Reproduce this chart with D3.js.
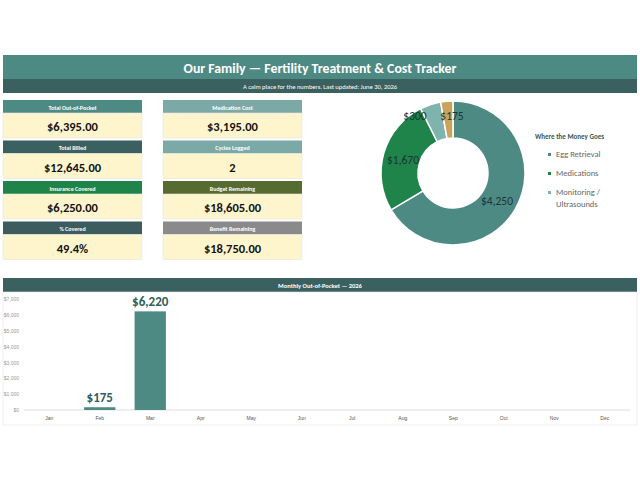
<!DOCTYPE html><html><head><meta charset="utf-8"><script src="https://cdn.jsdelivr.net/npm/d3@7"></script>
<style>body{margin:0;background:#fff}svg{font-family:Calibri,Carlito,Lato,sans-serif}</style></head><body>
<svg id="c" width="640" height="480"></svg>
<script>
const title="Our Family — Fertility Treatment & Cost Tracker";
const subtitle="A calm place for the numbers.  Last updated: June 30, 2026";
const cardLabels=["Total Out-of-Pocket","Total Billed","Insurance Covered","% Covered","Medication Cost","Cycles Logged","Budget Remaining","Benefit Remaining"];
const cardValues=["$6,395.00","$12,645.00","$6,250.00","49.4%","$3,195.00","2","$18,605.00","$18,750.00"];
const cardColors=["#4e8a84","#3a615f","#1e8449","#3d5c5e","#7aa9a6","#7aa9a6","#566b2f","#8a8a8a"];
const pieCats=["Egg Retrieval","Medications","Monitoring / Ultrasounds","Other"];
const pieVals=[4250,1670,300,175];
const pieColors=["#4e8a84","#1e8449","#7fb3ae","#c9a45c"];
const months=["Jan","Feb","Mar","Apr","May","Jun","Jul","Aug","Sep","Oct","Nov","Dec"];
const monthVals=[0,175,6220,0,0,0,0,0,0,0,0,0];
const yTicks=[0,1000,2000,3000,4000,5000,6000,7000];

const svg=d3.select("#c");
svg.append("rect").attr("x",3).attr("y",55).attr("width",634).attr("height",24).attr("fill","#4e8a84");
svg.append("rect").attr("x",3).attr("y",79).attr("width",634).attr("height",14).attr("fill","#3a615f");
svg.append("text").attr("x",320).attr("y",73).attr("text-anchor","middle").attr("fill","#fff").attr("font-size",13.8).attr("font-weight","bold").text(title);
svg.append("text").attr("x",320).attr("y",89).attr("text-anchor","middle").attr("fill","#fff").attr("font-size",6.5).text(subtitle);

cardLabels.forEach((l,i)=>{
  const x=i<4?3:163, y=100+(i%4)*40.5;
  const g=svg.append("g").attr("transform",`translate(${x},${y})`);
  g.append("rect").attr("width",139).attr("height",13).attr("fill",cardColors[i]);
  g.append("rect").attr("y",13).attr("width",139).attr("height",25).attr("fill","#fff5cc").attr("stroke","#e3e3e3").attr("stroke-width",0.6);
  g.append("text").attr("x",69.5).attr("y",9.5).attr("text-anchor","middle").attr("fill","#fff").attr("font-size",6).attr("font-weight","bold").text(l);
  g.append("text").attr("x",69.5).attr("y",31).attr("text-anchor","middle").attr("fill","#111").attr("font-size",12.5).attr("font-weight","bold").text(cardValues[i]);
});

const pg=svg.append("g").attr("transform","translate(453,173)");
const arcs=d3.pie().sort(null)(pieVals);
const arc=d3.arc().innerRadius(35).outerRadius(72);
pg.selectAll("path").data(arcs).join("path").attr("d",arc).attr("fill",(d,i)=>pieColors[i]).attr("stroke","#fff").attr("stroke-width",1.5);
const lab=[[44,32],[-50,-9],[-38,-53],[-1,-53]];
arcs.forEach((d,i)=>{
  pg.append("text").attr("x",lab[i][0]).attr("y",lab[i][1]).attr("text-anchor","middle").attr("font-size",11.5).attr("fill","#1a3533").text("$"+d3.format(",")(d.data));
});
svg.append("text").attr("x",535).attr("y",139).attr("font-size",7).attr("font-weight","bold").attr("fill","#3a5553").text("Where the Money Goes");
const legLines=[["Egg Retrieval"],["Medications"],["Monitoring /","Ultrasounds"]];
legLines.forEach((ls,i)=>{
  const y=157+i*19;
  svg.append("rect").attr("x",548).attr("y",y-4).attr("width",3).attr("height",3).attr("fill",pieColors[i]);
  ls.forEach((t,j)=>svg.append("text").attr("x",556).attr("y",y+j*12).attr("font-size",8.5).attr("fill","#666").text(t));
});

svg.append("rect").attr("x",3).attr("y",278).attr("width",634).attr("height",14).attr("fill","#3a615f");
svg.append("text").attr("x",320).attr("y",288).attr("text-anchor","middle").attr("fill","#fff").attr("font-size",6.5).attr("font-weight","bold").text("Monthly Out-of-Pocket — 2026");
svg.append("rect").attr("x",3).attr("y",292).attr("width",634).attr("height",133).attr("fill","none").attr("stroke","#e3e3e3").attr("stroke-width",0.6);
const x=d3.scaleBand().domain(months).range([24,630]).paddingInner(0.38).paddingOuter(0.19);
const y=d3.scaleLinear().domain([0,7000]).range([410,299]);
const ya=svg.append("g").attr("transform","translate(22,0)").call(d3.axisLeft(y).tickValues(yTicks).tickFormat(d=>"$"+d3.format(",")(d)).tickSize(0));
ya.select(".domain").remove();ya.selectAll("text").attr("font-size",5).attr("fill","#999");
svg.append("line").attr("x1",24).attr("x2",630).attr("y1",410).attr("y2",410).attr("stroke","#ddd");
const xa=svg.append("g").attr("transform","translate(0,413)").call(d3.axisBottom(x).tickSize(0));
xa.select(".domain").remove();xa.selectAll("text").attr("font-size",5).attr("fill","#555");
svg.selectAll(".bar").data(monthVals).join("rect").attr("x",(d,i)=>x(months[i])).attr("width",x.bandwidth()).attr("y",d=>y(d)).attr("height",d=>410-y(d)).attr("fill","#4e8a84");
monthVals.forEach((v,i)=>{if(v>0)svg.append("text").attr("x",x(months[i])+x.bandwidth()/2).attr("y",y(v)-5).attr("text-anchor","middle").attr("font-size",13).attr("font-weight","bold").attr("fill","#2f605c").text("$"+d3.format(",")(v));});
</script></body></html>
